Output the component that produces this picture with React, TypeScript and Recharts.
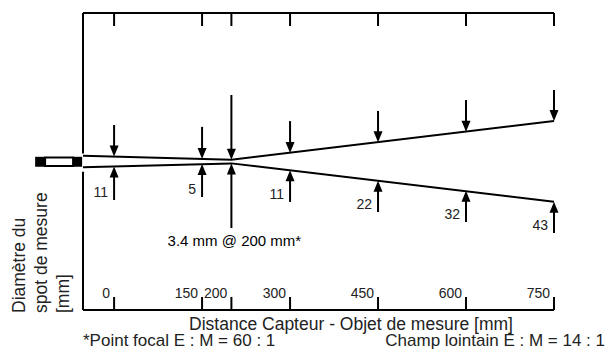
import React from "react";
import {
  ComposedChart,
  Line,
  ReferenceArea,
  ReferenceLine,
  XAxis,
  YAxis,
} from "recharts";

// distance sensor -> object [mm]
const distances = [0, 150, 200, 300, 450, 600, 750];
const tickLabels = ["0", "150", "200", "300", "450", "600", "750"];
// spot diameter [mm] written next to the lower arrows
const spotLabels = ["11", "5", "", "11", "22", "32", "43"];

// beam edges (half-width, drawing units)
const beamX = [-53, 200, 750];
const beamUpper = [3.1, 0.9, 21.6];
const beamLower = [-3.1, -1.0, -21.4];

// arrows: tip sits on the beam, tail is the free end
const arrowTopTip = [2.6, 1.3, 0.9, 4.5, 10.2, 15.8, 21.6];
const arrowTopTail = [19.4, 18.4, 35.4, 21.5, 26.9, 32.7, 38.0];
const arrowBottomTip = [-2.6, -1.3, -1.0, -4.6, -10.2, -15.6, -21.4];
const arrowBottomTail = [-20.5, -18.9, -35.4, -21.5, -26.9, -32.2, -38.0];

const FOCUS_NOTE = "3.4 mm @ 200 mm*";
const X_TITLE = "Distance Capteur - Objet de mesure [mm]";
const Y_TITLE = ["Diamètre du", "spot de mesure", "[mm]"];
const NOTE_LEFT = "*Point focal E : M = 60 : 1";
const NOTE_RIGHT = "Champ lointain E : M = 14 : 1";

const X_DOMAIN: [number, number] = [-53, 750];
const Y_DOMAIN: [number, number] = [-79, 79];
const FONT = "'Liberation Sans', Arial, Helvetica, sans-serif";
const INK = "#000";
const TEXT = "#222";

const upperData = beamX.map((x, i) => ({ x, y: beamUpper[i] }));
const lowerData = beamX.map((x, i) => ({ x, y: beamLower[i] }));

function TopTick(props: any) {
  const { x, y } = props;
  return <line x1={x} y1={y} x2={x} y2={y + 13} stroke={INK} strokeWidth={2} />;
}

function BottomTick(props: any) {
  const { x, y, payload } = props;
  const label = tickLabels[distances.indexOf(payload.value)];
  return (
    <g>
      <line x1={x} y1={y} x2={x} y2={y - 13} stroke={INK} strokeWidth={2} />
      <text
        x={x - 4}
        y={y - 12}
        textAnchor="end"
        fontSize={14}
        fontFamily={FONT}
        fill={TEXT}
      >
        {label}
      </text>
    </g>
  );
}

function arrowShape(label?: string, note?: string) {
  return (props: any) => {
    const { x1, y1, x2, y2 } = props;
    const dir = y2 > y1 ? 1 : -1;
    const head = 11;
    const half = 4.5;
    return (
      <g>
        <line
          x1={x1}
          y1={y1}
          x2={x2}
          y2={y2 - dir * (head - 1)}
          stroke={INK}
          strokeWidth={2}
        />
        <polygon
          points={`${x2},${y2} ${x2 - half},${y2 - dir * head} ${x2 + half},${y2 - dir * head}`}
          fill={INK}
        />
        {label ? (
          <text
            x={x1 - 6}
            y={y1 - 3}
            textAnchor="end"
            fontSize={14}
            fontFamily={FONT}
            fill={TEXT}
          >
            {label}
          </text>
        ) : null}
        {note ? (
          <text
            x={x1 + 3}
            y={y1 + 18}
            textAnchor="middle"
            fontSize={15}
            fontFamily={FONT}
            fill={INK}
          >
            {note}
          </text>
        ) : null}
      </g>
    );
  };
}

export default function App() {
  return (
    <div style={{ position: "absolute", left: 0, top: 0, background: "#fff" }}>
      <ComposedChart
        width={607}
        height={354}
        margin={{ top: 12, right: 53, left: 83, bottom: 43 }}
      >
        <XAxis
          dataKey="x"
          type="number"
          domain={X_DOMAIN}
          ticks={distances}
          interval={0}
          height={1}
          tickSize={0}
          tickMargin={0}
          tickLine={false}
          axisLine={{ stroke: INK, strokeWidth: 2 }}
          tick={(p: any) => <BottomTick {...p} />}
          allowDataOverflow
        />
        <XAxis
          xAxisId="top"
          orientation="top"
          dataKey="x"
          type="number"
          domain={X_DOMAIN}
          ticks={distances}
          interval={0}
          height={1}
          tickSize={0}
          tickMargin={0}
          tickLine={false}
          axisLine={{ stroke: INK, strokeWidth: 2 }}
          tick={(p: any) => <TopTick {...p} />}
          allowDataOverflow
        />
        <YAxis type="number" domain={Y_DOMAIN} hide allowDataOverflow />

        {/* left frame edge, open where the beam leaves the sensor */}
        <ReferenceLine
          segment={[
            { x: -53, y: Y_DOMAIN[1] },
            { x: -53, y: 4.3 },
          ]}
          stroke={INK}
          strokeWidth={2}
        />
        <ReferenceLine
          segment={[
            { x: -53, y: -5.4 },
            { x: -53, y: Y_DOMAIN[0] },
          ]}
          stroke={INK}
          strokeWidth={2}
        />

        {/* sensor head */}
        <ReferenceArea
          x1={-134.6}
          x2={-117.6}
          y1={2.5}
          y2={-2.8}
          fill={INK}
          fillOpacity={1}
          stroke="none"
          ifOverflow="visible"
        />
        <ReferenceArea
          x1={-117.6}
          x2={-69.9}
          y1={2.1}
          y2={-2.4}
          fill="#fff"
          fillOpacity={1}
          stroke={INK}
          strokeWidth={2}
          ifOverflow="visible"
        />
        <ReferenceArea
          x1={-69.9}
          x2={-54.5}
          y1={2.5}
          y2={-2.8}
          fill={INK}
          fillOpacity={1}
          stroke="none"
          ifOverflow="visible"
        />

        <Line
          data={upperData}
          dataKey="y"
          type="linear"
          stroke={INK}
          strokeWidth={2}
          dot={false}
          activeDot={false}
          isAnimationActive={false}
        />
        <Line
          data={lowerData}
          dataKey="y"
          type="linear"
          stroke={INK}
          strokeWidth={2}
          dot={false}
          activeDot={false}
          isAnimationActive={false}
        />

        {distances.map((d, i) => (
          <ReferenceLine
            key={`top-${d}`}
            segment={[
              { x: d, y: arrowTopTail[i] },
              { x: d, y: arrowTopTip[i] },
            ]}
            shape={arrowShape()}
          />
        ))}
        {distances.map((d, i) => (
          <ReferenceLine
            key={`bot-${d}`}
            segment={[
              { x: d, y: arrowBottomTail[i] },
              { x: d, y: arrowBottomTip[i] },
            ]}
            shape={arrowShape(spotLabels[i], d === 200 ? FOCUS_NOTE : undefined)}
          />
        ))}

        {Y_TITLE.map((t, i) => {
          const bx = 25 + i * 22;
          return (
            <text
              key={t}
              x={bx}
              y={313}
              transform={`rotate(-90, ${bx}, 313)`}
              fontSize={17.5}
              fontFamily={FONT}
              fill={TEXT}
            >
              {t}
            </text>
          );
        })}
        <text
          x={351}
          y={330}
          textAnchor="middle"
          fontSize={17.5}
          fontFamily={FONT}
          fill={TEXT}
        >
          {X_TITLE}
        </text>
        <text x={83} y={346} fontSize={17} fontFamily={FONT} fill={TEXT}>
          {NOTE_LEFT}
        </text>
        <text
          x={605}
          y={346}
          textAnchor="end"
          fontSize={17}
          fontFamily={FONT}
          fill={TEXT}
        >
          {NOTE_RIGHT}
        </text>
      </ComposedChart>
    </div>
  );
}
